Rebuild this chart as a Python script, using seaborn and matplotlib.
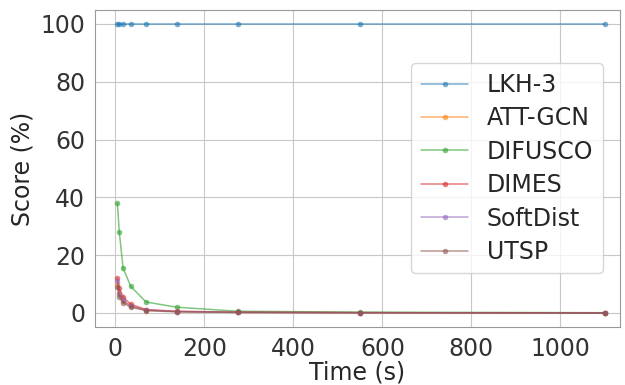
import numpy as np
import pandas as pd
import matplotlib
matplotlib.use('Agg')
import matplotlib.pyplot as plt
import seaborn as sns

# time budgets (s)
times = [4.3, 8.6, 17.2, 34.4, 68.75, 137.5, 275, 550, 1100]

methods = ["LKH-3", "ATT-GCN", "DIFUSCO", "DIMES", "SoftDist", "UTSP"]
lkh3 = [100, 100, 100, 100, 100, 100, 100, 100, 100]
att_gcn = [10, 7, 4, 2.5, 1.0, 0.5, 0.2, 0.1, 0.0]
difusco = [38, 28, 15.5, 9.2, 3.8, 2.0, 0.6, 0.3, 0.1]
dimes = [12, 8.5, 5.5, 3.0, 1.2, 0.6, 0.3, 0.1, 0.0]
softdist = [11, 6.5, 4.5, 2.3, 1.0, 0.5, 0.2, 0.1, 0.0]
utsp = [9, 5.5, 3.5, 2.0, 0.8, 0.4, 0.2, 0.1, 0.0]

scores = [lkh3, att_gcn, difusco, dimes, softdist, utsp]

rows = []
for m, s in zip(methods, scores):
    for t, v in zip(times, s):
        rows.append({"Time (s)": t, "Score (%)": v, "method": m})
df = pd.DataFrame(rows)

sns.set_style("white")
plt.rcParams['font.family'] = ['DejaVu Sans']

fig, ax = plt.subplots(figsize=(6.25, 3.85), dpi=100)
palette = sns.color_palette("tab10", 6)
sns.lineplot(data=df, x="Time (s)", y="Score (%)", hue="method", hue_order=methods,
             palette=palette, marker="o", markersize=4, linewidth=1.1, alpha=0.6,
             markeredgewidth=0, ax=ax)

ax.grid(True, color="#c8c8c8", linewidth=0.8)
ax.set_xlabel("Time (s)", fontsize=17, labelpad=0)
ax.set_ylabel("Score (%)", fontsize=17)
ax.tick_params(labelsize=17, length=3.5, colors="#333333")
ax.set_xticks([0, 200, 400, 600, 800, 1000])
ax.set_yticks([0, 20, 40, 60, 80, 100])
ax.set_xlim(-46, 1134)
ax.set_ylim(-4.8, 104.8)
for sp in ax.spines.values():
    sp.set_color("#999999")

leg = ax.legend(fontsize=17, loc="center right", bbox_to_anchor=(0.99, 0.5),
                framealpha=0.8, handlelength=2.0, labelspacing=0.4)
leg.set_title(None)

fig.subplots_adjust(left=0.152, right=0.992, top=0.974, bottom=0.151)
fig.savefig("out.png", dpi=100)
